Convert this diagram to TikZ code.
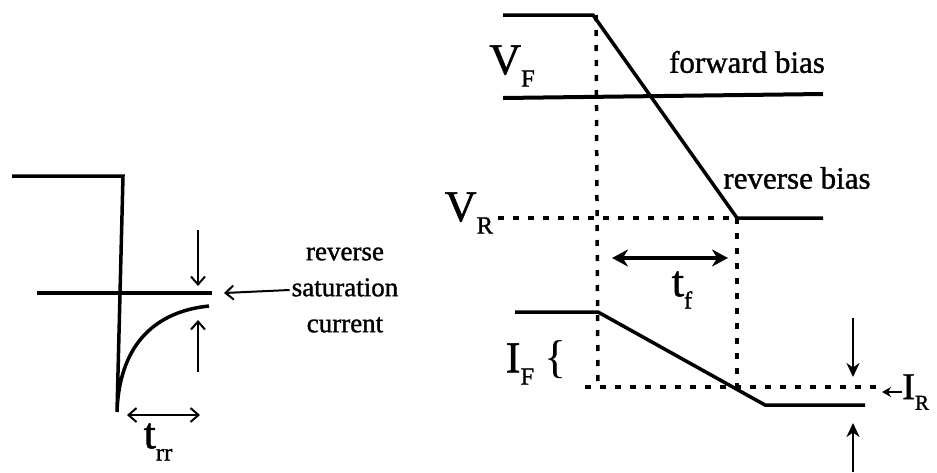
\documentclass[tikz,border=0pt]{standalone}
\usepackage{fontspec}
\setmainfont{Liberation Serif}
\newfontfamily\heavyserif[FakeBold=1.2]{Liberation Serif}
\usetikzlibrary{arrows.meta,positioning,calc}
\newcommand{\lowsub}[1]{\raisebox{-0.28em}{\scalebox{0.56}{#1}}}

\begin{document}
\begin{tikzpicture}[
    x=1pt, y=-1pt,
    wave/.style={line width=3.5pt},
    guide/.style={line width=3.5pt, dash pattern=on 6pt off 9pt},
    thinarrow/.style={line width=2pt, -{Straight Barb[length=8pt,width=14pt]}},
    thinboth/.style={line width=2pt, {Straight Barb[length=8pt,width=14pt]}-{Straight Barb[length=8pt,width=14pt]}},
    heavyboth/.style={line width=3.2pt, {Stealth[length=16pt,width=17pt]}-{Stealth[length=16pt,width=17pt]}},
    heavyarrow/.style={line width=2.5pt, -{Stealth[length=14pt,width=13pt]}},
    biglabel/.style={inner sep=1pt, font=\heavyserif\fontsize{44}{48}\selectfont},
    smalltext/.style={inner sep=2pt, font=\heavyserif\fontsize{31}{36}\selectfont},
    sidetext/.style={inner sep=2pt, align=center, font=\heavyserif\fontsize{27}{36}\selectfont}
]
    \useasboundingbox (0,0) rectangle (937,472);

    % reverse recovery, left
    \coordinate (lstart) at (12,176);
    \coordinate (lcorner) at (123,176);
    \coordinate (lbottom) at (117,412);
    \coordinate (lend) at (209,306);
    \coordinate (zleft) at (37,293);
    \coordinate (zright) at (212,293);
    \draw[wave] (lstart) -- (lcorner) -- (lbottom)
        .. controls (119,350) and (150,312) .. (lend);
    \draw[wave] (zleft) -- (zright);

    \coordinate (downtop) at (198,230);
    \coordinate (downtip) at (198,286);
    \coordinate (upbot) at (198,372);
    \coordinate (uptip) at (198,320);
    \draw[thinarrow] (downtop) -- (downtip);
    \draw[thinarrow] (upbot) -- (uptip);

    \node[sidetext] (satlabel) at (345,290) {reverse\\saturation\\current};
    \coordinate (sattip) at (224,293);
    \draw[thinarrow] (satlabel.west) -- (sattip);

    \coordinate (trrleft) at (127,415);
    \coordinate (trrright) at (200,415);
    \draw[thinboth] (trrleft) -- (trrright);
    \node[biglabel] (trr) at (158,442) {t\lowsub{rr}};

    % voltage, right
    \coordinate (vstart) at (503,15);
    \coordinate (vcorner) at (593,15);
    \coordinate (vlow) at (737,218);
    \coordinate (vend) at (823,218);
    \draw[wave] (vstart) -- (vcorner) -- (vlow) -- (vend);
    \coordinate (fleft) at (503,98);
    \coordinate (fright) at (823,94);
    \draw[line width=4pt] (fleft) -- (fright);

    \node[biglabel] (vf) at (512,66) {V\lowsub{F}};
    \node[biglabel] (vr) at (469,213) {V\lowsub{R}};
    \node[smalltext] (fwd) at (747,62) {forward bias};
    \node[smalltext] (rev) at (797,178) {reverse bias};

    % guides
    \coordinate (gtop) at (596,15);
    \coordinate (gbot) at (598,387);
    \coordinate (gmid) at (737,387);
    \coordinate (gright) at (882,387);
    \coordinate (gleft) at (585,387);
    \draw[guide] (gtop) -- (gbot);
    \draw[guide] (vlow) -- (gmid);
    \draw[guide] (vr.east) ++(4,5) -- (vlow);
    \draw[guide] (gleft) -- (gright);

    \coordinate (tfleft) at (612,258);
    \coordinate (tfright) at (728,258);
    \draw[heavyboth] (tfleft) -- (tfright);
    \node[biglabel] (tf) at (682,290) {t\lowsub{f}};

    % current, right
    \coordinate (istart) at (515,312);
    \coordinate (icorner) at (598,312);
    \coordinate (ilow) at (765,405);
    \coordinate (iend) at (865,405);
    \draw[wave] (istart) -- (icorner) -- (ilow) -- (iend);

    \node[biglabel] (ifl) at (520,364) {I\lowsub{F}};
    \node[inner sep=0pt, font=\fontsize{46}{50}\selectfont] (ifbrace) at (556,360) {\{};

    \node[biglabel, anchor=west, inner sep=0pt, font=\heavyserif\fontsize{38}{42}\selectfont] (irl) at (902,392) {I\lowsub{R}};
    \coordinate (irtip) at (882,392);
    \draw[line width=2.5pt, -{Stealth[length=9pt,width=10pt]}] (irl.west) -- (irtip);

    \coordinate (idowntop) at (853,318);
    \coordinate (idowntip) at (853,377);
    \coordinate (iupbot) at (853,472);
    \coordinate (iuptip) at (853,423);
    \draw[heavyarrow] (idowntop) -- (idowntip);
    \draw[heavyarrow] (iupbot) -- (iuptip);
\end{tikzpicture}
\end{document}
